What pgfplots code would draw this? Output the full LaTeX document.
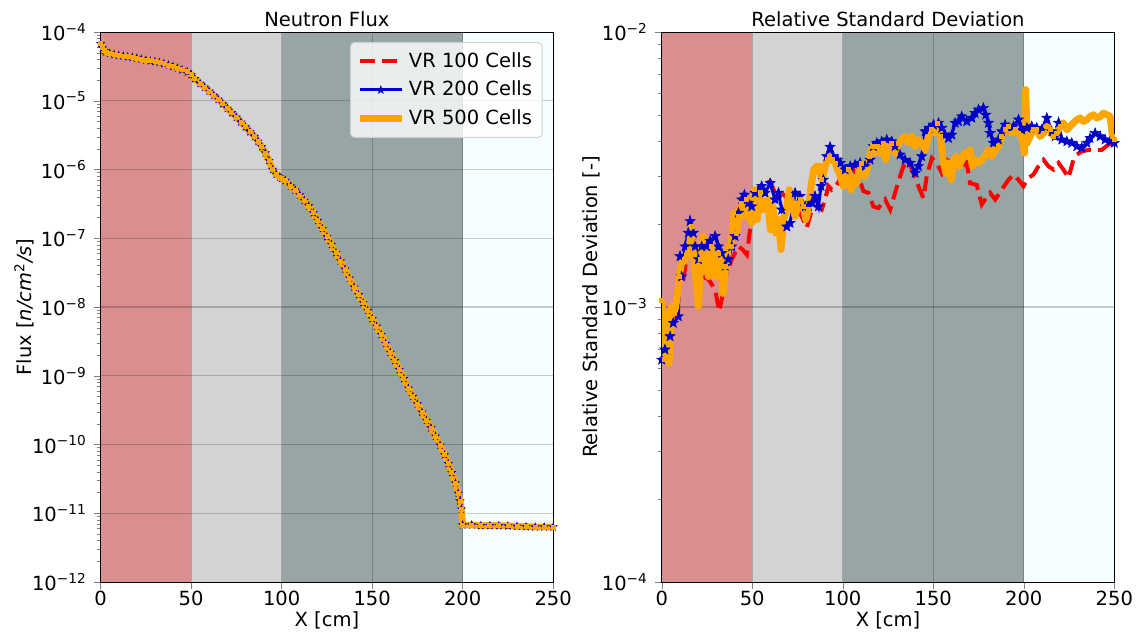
\documentclass[border=0pt]{standalone}
\usepackage{fontspec}
\setmainfont{DejaVu Sans}
\usepackage{pgfplots}
\usepackage{pgfplotstable}
\pgfplotsset{compat=1.18}
\usetikzlibrary{plotmarks}

\definecolor{regA}{RGB}{218,142,143}
\definecolor{regB}{RGB}{211,211,211}
\definecolor{regC}{RGB}{151,166,165}
\definecolor{regD}{RGB}{245,255,255}
\definecolor{mplorange}{RGB}{255,165,0}
\definecolor{mplblue}{RGB}{0,0,205}
\definecolor{mplred}{RGB}{255,0,0}

\pgfdeclareplotmark{fstar}{%
  \pgfpathmoveto{\pgfpointpolar{90}{\pgfplotmarksize}}%
  \pgfpathlineto{\pgfpointpolar{126}{0.42\pgfplotmarksize}}%
  \pgfpathlineto{\pgfpointpolar{162}{\pgfplotmarksize}}%
  \pgfpathlineto{\pgfpointpolar{198}{0.42\pgfplotmarksize}}%
  \pgfpathlineto{\pgfpointpolar{234}{\pgfplotmarksize}}%
  \pgfpathlineto{\pgfpointpolar{270}{0.42\pgfplotmarksize}}%
  \pgfpathlineto{\pgfpointpolar{306}{\pgfplotmarksize}}%
  \pgfpathlineto{\pgfpointpolar{342}{0.42\pgfplotmarksize}}%
  \pgfpathlineto{\pgfpointpolar{18}{\pgfplotmarksize}}%
  \pgfpathlineto{\pgfpointpolar{54}{0.42\pgfplotmarksize}}%
  \pgfpathclose
  \pgfusepathqfillstroke
}

\pgfplotstableread{
x f
0 6.76e-5
1 5.89e-5
2 5.37e-5
3 5.13e-5
5 4.90e-5
7.5 4.70e-5
10 4.57e-5
12.5 4.47e-5
15 4.37e-5
17.5 4.27e-5
20 4.17e-5
22.5 4.03e-5
25 3.89e-5
27.5 3.80e-5
30 3.72e-5
32.5 3.60e-5
35 3.47e-5
37.5 3.31e-5
40 3.16e-5
42.5 2.99e-5
45 2.82e-5
48 2.63e-5
50 2.40e-5
52 2.09e-5
55 1.78e-5
57.5 1.57e-5
60 1.38e-5
62.5 1.20e-5
65 1.05e-5
67.5 9.02e-6
70 7.76e-6
72.5 6.68e-6
75 5.75e-6
77.5 4.90e-6
80 4.17e-6
82.5 3.55e-6
85 3.02e-6
87 2.57e-6
89 2.14e-6
91 1.74e-6
93 1.35e-6
95 1.00e-6
97 8.51e-7
99 7.76e-7
100 7.41e-7
102 6.92e-7
105 5.75e-7
107.5 5.01e-7
110 4.27e-7
112.5 3.55e-7
115 2.95e-7
117.5 2.34e-7
120 1.82e-7
122.5 1.38e-7
125 1.05e-7
127.5 8.13e-8
130 6.17e-8
132.5 4.68e-8
135 3.55e-8
137.5 2.63e-8
140 1.95e-8
142.5 1.51e-8
145 1.15e-8
147.5 8.91e-9
150 6.76e-9
152.5 5.25e-9
155 3.98e-9
157.5 2.95e-9
160 2.19e-9
162.5 1.66e-9
165 1.23e-9
167.5 9.12e-10
170 6.61e-10
172.5 5.01e-10
175 3.89e-10
177.5 2.95e-10
180 2.24e-10
182.5 1.74e-10
185 1.32e-10
187.5 9.77e-11
190 7.08e-11
192 5.25e-11
194 3.89e-11
196 2.75e-11
197.5 1.95e-11
198.5 1.51e-11
199.3 1.15e-11
200 6.76e-12
205 6.76e-12
210 6.61e-12
215 6.61e-12
220 6.61e-12
225 6.55e-12
230 6.46e-12
235 6.40e-12
240 6.31e-12
245 6.31e-12
250 6.31e-12
}\fluxtab

\pgfplotstableread{
x y
0 6.26e-4
1.8 6.80e-4
4.6 8.50e-4
7.4 9.51e-4
10.1 1.24e-3
12.0 1.26e-3
14.7 1.66e-3
17.5 1.57e-3
20.3 1.41e-3
23.9 1.28e-3
25.8 1.26e-3
29.5 1.16e-3
31.7 9.64e-4
33.1 1.06e-3
35.9 1.33e-3
38.7 1.49e-3
42.4 1.66e-3
44.6 1.62e-3
47.0 1.55e-3
48.8 1.91e-3
51.6 2.26e-3
54.3 2.60e-3
57.1 2.82e-3
59.9 2.86e-3
62.6 2.60e-3
66.3 2.60e-3
70.0 2.46e-3
73.7 2.32e-3
77.3 2.14e-3
80.1 1.94e-3
82.9 2.26e-3
85.6 2.32e-3
88.4 2.26e-3
90.2 2.46e-3
92.1 2.75e-3
93.9 2.67e-3
96.7 2.78e-3
100.4 3.07e-3
103.1 3.25e-3
105.9 3.16e-3
108.7 2.99e-3
111.4 2.64e-3
114.2 2.60e-3
116.9 2.32e-3
119.7 2.29e-3
123.4 2.46e-3
126.2 2.26e-3
128.9 2.60e-3
131.7 2.99e-3
133.5 3.25e-3
136.3 3.38e-3
139.0 3.07e-3
141.8 2.75e-3
144.6 2.49e-3
146.4 2.99e-3
149.2 3.48e-3
151.9 3.34e-3
154.7 3.07e-3
157.5 3.43e-3
160.2 3.34e-3
163.0 3.25e-3
165.7 3.16e-3
168.5 3.34e-3
170.3 2.82e-3
174.0 2.78e-3
176.8 2.36e-3
178.6 2.46e-3
181.4 2.60e-3
184.2 2.46e-3
187.8 2.67e-3
191.5 2.90e-3
194.3 3.03e-3
197.1 2.90e-3
199.8 2.75e-3
202.6 2.95e-3
205.3 3.03e-3
208.1 3.25e-3
210.9 3.43e-3
213.6 3.25e-3
216.4 3.16e-3
219.2 3.34e-3
221.9 3.16e-3
224.7 2.95e-3
227.4 3.43e-3
229.3 3.58e-3
232.0 3.68e-3
235.7 3.73e-3
239.4 3.73e-3
243.1 3.73e-3
246.8 3.90e-3
250.0 3.95e-3
}\rsdred

\pgfplotstableread{
x y
0 6.43e-4
1.8 7.00e-4
4.6 7.82e-4
6.4 8.75e-4
9.2 9.24e-4
10.1 1.53e-3
11.0 1.29e-3
12.9 1.66e-3
14.7 1.86e-3
15.7 2.05e-3
17.5 1.86e-3
18.4 1.66e-3
20.3 1.49e-3
22.1 1.66e-3
24.9 1.66e-3
26.7 1.74e-3
29.5 1.81e-3
31.3 1.66e-3
33.1 1.57e-3
35.0 1.41e-3
36.8 1.49e-3
38.7 1.66e-3
40.5 1.81e-3
42.4 2.20e-3
44.2 2.46e-3
45.7 2.56e-3
47.9 2.39e-3
49.7 2.32e-3
51.6 2.60e-3
53.4 2.67e-3
55.2 2.75e-3
57.1 2.60e-3
59.9 2.82e-3
62.6 2.46e-3
64.5 2.60e-3
66.3 2.26e-3
69.1 1.96e-3
70.9 2.02e-3
73.7 2.60e-3
76.4 2.53e-3
79.2 2.32e-3
81.0 2.32e-3
82.9 2.39e-3
84.7 2.53e-3
86.6 2.32e-3
88.0 2.75e-3
89.3 2.90e-3
91.2 3.53e-3
93.0 3.82e-3
94.8 3.53e-3
97.2 3.43e-3
98.7 3.34e-3
101.3 3.16e-3
104.1 3.25e-3
106.8 3.29e-3
109.6 3.34e-3
112.3 3.25e-3
115.1 3.43e-3
116.9 3.84e-3
118.8 3.95e-3
121.5 4.00e-3
124.3 4.06e-3
127.1 4.00e-3
128.9 3.84e-3
131.7 3.58e-3
134.4 3.43e-3
137.2 3.34e-3
140.0 3.07e-3
141.8 3.25e-3
143.6 3.53e-3
145.5 4.35e-3
147.7 4.48e-3
150.1 4.60e-3
152.9 4.67e-3
154.7 4.48e-3
156.5 4.23e-3
158.4 4.11e-3
160.2 4.23e-3
162.1 4.67e-3
163.9 4.73e-3
165.7 4.93e-3
168.5 4.73e-3
171.3 4.87e-3
173.1 5.07e-3
175.0 5.22e-3
177.7 5.29e-3
179.0 5.00e-3
180.5 4.67e-3
181.4 4.29e-3
183.2 3.95e-3
186.0 4.06e-3
187.8 4.35e-3
189.7 4.60e-3
191.5 4.48e-3
194.3 4.54e-3
197.1 4.80e-3
198.9 4.41e-3
201.7 4.48e-3
204.4 4.54e-3
207.2 4.48e-3
209.9 4.41e-3
212.7 4.87e-3
215.5 4.35e-3
217.3 4.17e-3
219.2 4.67e-3
221.0 4.06e-3
223.8 4.00e-3
226.5 3.95e-3
229.3 3.84e-3
232.0 3.79e-3
234.8 3.95e-3
236.6 4.11e-3
239.4 4.29e-3
242.2 4.17e-3
244.9 4.06e-3
247.7 4.00e-3
250.0 3.95e-3
}\rsdblue

\pgfplotstableread{
x y
0 1.06e-3
1.5 6.43e-4
2.8 9.51e-4
4.1 6.26e-4
5.5 1.005e-3
7.0 9.51e-4
8.3 1.06e-3
9.6 1.29e-3
11.0 1.45e-3
12.5 1.49e-3
13.8 1.53e-3
15.3 1.62e-3
16.2 1.96e-3
17.5 1.57e-3
18.8 1.29e-3
20.3 1.005e-3
21.5 1.49e-3
23.0 1.81e-3
24.3 1.49e-3
25.8 1.29e-3
27.3 1.66e-3
28.5 1.49e-3
29.8 1.29e-3
31.3 1.57e-3
32.6 1.41e-3
33.9 1.12e-3
35.4 1.41e-3
36.8 1.66e-3
38.3 1.66e-3
39.8 2.20e-3
41.3 1.86e-3
42.4 2.14e-3
43.8 2.39e-3
45.3 2.14e-3
47.0 2.46e-3
48.4 2.14e-3
49.7 2.02e-3
51.2 2.67e-3
52.7 2.08e-3
54.3 2.60e-3
55.8 2.26e-3
57.1 2.39e-3
58.6 2.46e-3
60.0 1.91e-3
61.5 2.32e-3
63.0 1.86e-3
64.5 2.08e-3
65.9 1.62e-3
67.4 2.08e-3
69.1 2.32e-3
70.5 2.67e-3
72.0 2.32e-3
73.7 2.14e-3
75.1 2.32e-3
76.6 2.46e-3
78.1 2.32e-3
79.6 2.08e-3
81.0 2.26e-3
82.5 2.75e-3
84.0 3.16e-3
85.5 3.25e-3
86.9 3.25e-3
88.4 2.90e-3
89.9 3.16e-3
91.3 3.43e-3
92.8 3.53e-3
94.3 3.43e-3
95.8 3.34e-3
97.2 3.16e-3
98.7 2.99e-3
100.2 2.75e-3
101.7 2.90e-3
103.1 3.16e-3
104.6 2.67e-3
106.1 2.90e-3
107.6 2.82e-3
109.0 3.16e-3
110.5 3.34e-3
112.0 2.99e-3
113.4 3.16e-3
114.9 3.53e-3
116.4 3.84e-3
117.9 3.63e-3
119.3 3.84e-3
120.8 3.63e-3
122.3 3.95e-3
123.8 3.43e-3
125.2 3.84e-3
127.1 3.95e-3
128.9 3.63e-3
130.8 3.95e-3
132.6 4.06e-3
134.4 4.17e-3
136.3 3.95e-3
138.1 4.17e-3
140.0 3.84e-3
141.8 4.06e-3
143.6 3.95e-3
145.5 3.73e-3
147.3 4.17e-3
149.2 4.41e-3
151.0 4.29e-3
152.5 4.67e-3
154.0 4.17e-3
155.4 3.43e-3
156.9 3.07e-3
158.4 3.34e-3
159.9 2.90e-3
161.3 3.43e-3
162.8 3.53e-3
164.3 3.25e-3
165.7 3.43e-3
167.2 3.63e-3
168.7 3.53e-3
170.2 3.73e-3
171.6 3.25e-3
173.1 3.43e-3
175.0 3.34e-3
176.8 3.43e-3
178.6 3.53e-3
180.5 3.73e-3
182.3 3.53e-3
184.2 3.73e-3
186.0 3.84e-3
187.8 4.17e-3
189.7 4.41e-3
191.5 4.54e-3
193.4 4.29e-3
195.2 4.41e-3
197.1 4.29e-3
198.9 4.17e-3
200.4 3.63e-3
201.1 6.17e-3
201.8 3.95e-3
203.5 4.17e-3
205.3 4.41e-3
207.2 4.41e-3
209.0 4.17e-3
210.9 4.29e-3
212.7 4.54e-3
214.5 4.41e-3
216.4 4.17e-3
218.2 4.29e-3
220.1 4.54e-3
221.9 4.67e-3
223.8 4.41e-3
225.6 4.54e-3
227.4 4.67e-3
229.3 4.80e-3
231.1 4.87e-3
233.0 4.73e-3
234.8 4.80e-3
236.6 4.93e-3
238.5 5.00e-3
240.3 4.87e-3
242.2 4.93e-3
244.0 5.07e-3
245.9 5.00e-3
247.7 4.93e-3
249.0 4.17e-3
250.0 4.06e-3
}\rsdorange

\begin{document}
\fontsize{9.75pt}{11.7pt}\selectfont
\begin{tikzpicture}
\useasboundingbox (0,0) rectangle (570pt,317.5pt);
\begin{axis}[
  at={(50.3pt,26.5pt)}, anchor=south west,
  scale only axis, width=226.3pt, height=275pt,
  ymode=log, xmin=0, xmax=250, xtick={0,50,100,150,200,250},
  ymin=1e-12, ymax=1e-4,
  ytick={1e-12,1e-11,1e-10,1e-9,1e-8,1e-7,1e-6,1e-5,1e-4},
  yticklabels={10\textsuperscript{−12},10\textsuperscript{−11},10\textsuperscript{−10},10\textsuperscript{−9},10\textsuperscript{−8},10\textsuperscript{−7},10\textsuperscript{−6},10\textsuperscript{−5},10\textsuperscript{−4}},
  minor ytick={2e-12,3e-12,4e-12,5e-12,6e-12,7e-12,8e-12,9e-12,2e-11,3e-11,4e-11,5e-11,6e-11,7e-11,8e-11,9e-11,2e-10,3e-10,4e-10,5e-10,6e-10,7e-10,8e-10,9e-10,2e-9,3e-9,4e-9,5e-9,6e-9,7e-9,8e-9,9e-9,2e-8,3e-8,4e-8,5e-8,6e-8,7e-8,8e-8,9e-8,2e-7,3e-7,4e-7,5e-7,6e-7,7e-7,8e-7,9e-7,2e-6,3e-6,4e-6,5e-6,6e-6,7e-6,8e-6,9e-6,2e-5,3e-5,4e-5,5e-5,6e-5,7e-5,8e-5,9e-5},
  tick align=outside, tick pos=left,
  major tick length=3.5pt, minor tick length=2pt,
  axis line style={black, line width=0.5pt},
  axis on top,
  /pgf/number format/assume math mode=true,
  title={Neutron Flux},
  title style={anchor=base, yshift=-3pt},
  xlabel={X [cm]},
  xlabel style={at={(0.5,0)}, anchor=base, yshift=-22.3pt},
  ylabel={Flux [\textit{n/cm}\textsuperscript{2}\textit{/s}]},
  ylabel style={at={(-0.169,0.5)}, anchor=center},
  xticklabel style={yshift=2.5pt},
  legend image code/.code={\draw[mark repeat=2,mark phase=2] plot coordinates {(0pt,0pt) (10.4pt,0pt) (20.8pt,0pt)};},
  legend cell align=left,
  legend style={at={(0.9766,0.9818)}, anchor=north east, draw=black!18, line width=0.5pt,
    rounded corners=2pt, fill=white, fill opacity=0.8, draw opacity=1, text opacity=1,
    inner xsep=3pt, inner ysep=3pt, row sep=1.4pt},
]
\addplot[draw=none, fill=regA, forget plot] coordinates {(0,1e-12) (50,1e-12) (50,1e-4) (0,1e-4)} -- cycle;
\addplot[draw=none, fill=regB, forget plot] coordinates {(50,1e-12) (100,1e-12) (100,1e-4) (50,1e-4)} -- cycle;
\addplot[draw=none, fill=regC, forget plot] coordinates {(100,1e-12) (200,1e-12) (200,1e-4) (100,1e-4)} -- cycle;
\addplot[draw=none, fill=regD, forget plot] coordinates {(200,1e-12) (250,1e-12) (250,1e-4) (200,1e-4)} -- cycle;
\addplot[black, opacity=0.2, line width=0.6pt, forget plot] coordinates {(0,1e-11) (250,1e-11)};
\addplot[black, opacity=0.2, line width=0.6pt, forget plot] coordinates {(0,1e-10) (250,1e-10)};
\addplot[black, opacity=0.2, line width=0.6pt, forget plot] coordinates {(0,1e-9) (250,1e-9)};
\addplot[black, opacity=0.2, line width=0.6pt, forget plot] coordinates {(0,1e-8) (250,1e-8)};
\addplot[black, opacity=0.2, line width=0.6pt, forget plot] coordinates {(0,1e-7) (250,1e-7)};
\addplot[black, opacity=0.2, line width=0.6pt, forget plot] coordinates {(0,1e-6) (250,1e-6)};
\addplot[black, opacity=0.2, line width=0.6pt, forget plot] coordinates {(0,1e-5) (250,1e-5)};
\addplot[black, opacity=0.2, line width=0.6pt, forget plot] coordinates {(50,1e-12) (50,1e-4)};
\addplot[black, opacity=0.2, line width=0.6pt, forget plot] coordinates {(100,1e-12) (100,1e-4)};
\addplot[black, opacity=0.2, line width=0.6pt, forget plot] coordinates {(150,1e-12) (150,1e-4)};
\addplot[black, opacity=0.2, line width=0.6pt, forget plot] coordinates {(200,1e-12) (200,1e-4)};
\addplot[mplred, line width=2pt, dash pattern=on 7.5pt off 3.5pt] table[x=x, y=f] {\fluxtab};
\addplot[mplblue, line width=1.5pt, mark=fstar, mark size=2pt, mark options={solid, line width=0.3pt, fill=mplblue}] table[x=x, y=f] {\fluxtab};
\addplot[mplorange, line width=3.4pt, line join=round, mark=square*, mark size=1pt, mark options={solid, line width=0.4pt, fill=mplorange}] table[x=x, y=f] {\fluxtab};
\legend{VR 100 Cells, VR 200 Cells, VR 500 Cells}
\end{axis}

\begin{axis}[
  at={(330.85pt,26.5pt)}, anchor=south west,
  scale only axis, width=226.3pt, height=275pt,
  ymode=log, xmin=0, xmax=250, xtick={0,50,100,150,200,250},
  ymin=1e-4, ymax=1e-2,
  ytick={1e-4,1e-3,1e-2},
  yticklabels={10\textsuperscript{−4},10\textsuperscript{−3},10\textsuperscript{−2}},
  minor ytick={2e-4,3e-4,4e-4,5e-4,6e-4,7e-4,8e-4,9e-4,2e-3,3e-3,4e-3,5e-3,6e-3,7e-3,8e-3,9e-3},
  tick align=outside, tick pos=left,
  major tick length=3.5pt, minor tick length=2pt,
  axis line style={black, line width=0.5pt},
  axis on top,
  /pgf/number format/assume math mode=true,
  title={Relative Standard Deviation},
  title style={anchor=base, yshift=-3pt},
  xlabel={X [cm]},
  xlabel style={at={(0.5,0)}, anchor=base, yshift=-22.3pt},
  ylabel={Relative Standard Deviation [-]},
  ylabel style={at={(-0.1548,0.5)}, anchor=center},
  xticklabel style={yshift=2.5pt},
]
\addplot[draw=none, fill=regA, forget plot] coordinates {(0,1e-4) (50,1e-4) (50,1e-2) (0,1e-2)} -- cycle;
\addplot[draw=none, fill=regB, forget plot] coordinates {(50,1e-4) (100,1e-4) (100,1e-2) (50,1e-2)} -- cycle;
\addplot[draw=none, fill=regC, forget plot] coordinates {(100,1e-4) (200,1e-4) (200,1e-2) (100,1e-2)} -- cycle;
\addplot[draw=none, fill=regD, forget plot] coordinates {(200,1e-4) (250,1e-4) (250,1e-2) (200,1e-2)} -- cycle;
\addplot[black, opacity=0.2, line width=0.6pt, forget plot] coordinates {(0,1e-3) (250,1e-3)};
\addplot[black, opacity=0.2, line width=0.6pt, forget plot] coordinates {(50,1e-4) (50,1e-2)};
\addplot[black, opacity=0.2, line width=0.6pt, forget plot] coordinates {(100,1e-4) (100,1e-2)};
\addplot[black, opacity=0.2, line width=0.6pt, forget plot] coordinates {(150,1e-4) (150,1e-2)};
\addplot[black, opacity=0.2, line width=0.6pt, forget plot] coordinates {(200,1e-4) (200,1e-2)};
\addplot[mplred, line width=2pt, dash pattern=on 7.5pt off 3.5pt] table[x=x, y=y] {\rsdred};
\addplot[mplblue, line width=1.5pt, mark=fstar, mark size=2.6pt, mark options={solid, line width=0.3pt, fill=mplblue}] table[x=x, y=y] {\rsdblue};
\addplot[mplorange, line width=3.5pt, line join=round, mark=square*, mark size=1pt, mark options={solid, line width=0.4pt, fill=mplorange}] table[x=x, y=y] {\rsdorange};
\end{axis}
\end{tikzpicture}
\end{document}
